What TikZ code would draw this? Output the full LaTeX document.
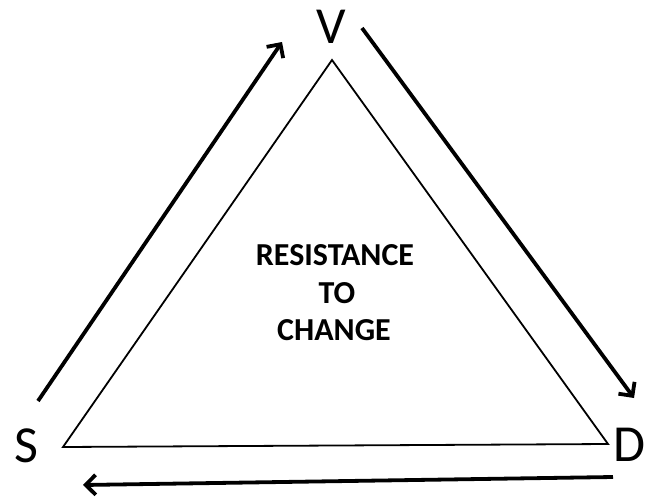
\documentclass[tikz,border=0pt]{standalone}
\usepackage{fontspec}
\setmainfont{Carlito}
\usetikzlibrary{arrows.meta}
\begin{document}
\begin{tikzpicture}[x=1pt,y=-1pt,
  tri/.style={line width=1.8pt, line join=miter},
  flow/.style={line width=3.8pt, -{Straight Barb[length=10pt,width=20pt]}},
  vertex/.style={font=\fontsize{52}{52}\selectfont, inner sep=0pt},
  lbl/.style={font=\bfseries\fontsize{32}{32}\selectfont, inner sep=0pt}]
\useasboundingbox (0,0) rectangle (646,496);
% triangle corners
\coordinate (tA) at (332,60);
\coordinate (tL) at (63,447);
\coordinate (tR) at (608,444);
\draw[tri] (tA) -- (tL) -- (tR) -- cycle;
% vertex labels
\node[vertex] (S) at (26,446) {S};
\node[vertex] (V) at (331,27) {V};
\node[vertex] (D) at (629,445) {D};
% arrow ends
\coordinate (a1s) at (38,401);
\coordinate (a1e) at (282,42);
\coordinate (a2s) at (362,28);
\coordinate (a2e) at (634,398);
\coordinate (a3s) at (613,477);
\coordinate (a3e) at (83,485);
\draw[flow] (a1s) -- (a1e);
\draw[flow] (a2s) -- (a2e);
\draw[flow] (a3s) -- (a3e);
% centre text
\node[lbl] (r1) at (335,255) {RESISTANCE};
\node[lbl] (r2) at (337,293) {TO};
\node[lbl] (r3) at (334,330) {CHANGE};
\end{tikzpicture}
\end{document}
